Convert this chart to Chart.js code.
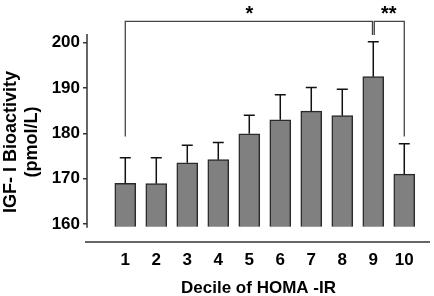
<!DOCTYPE html>
<html>
<head>
<meta charset="utf-8">
<script src="https://cdn.jsdelivr.net/npm/chart.js@4/dist/chart.umd.min.js"></script>
<style>
  html, body { margin: 0; padding: 0; background: #fff; }
  #wrap { width: 434px; height: 296px; }
</style>
</head>
<body>
<div id="wrap"><canvas id="chart"></canvas></div>
<script>
// data
const deciles = [1, 2, 3, 4, 5, 6, 7, 8, 9, 10];
const means = [169.0, 168.9, 173.5, 174.2, 179.9, 183.0, 184.9, 183.9, 192.5, 171.0];
const sem = [5.6, 5.7, 3.9, 3.8, 4.1, 5.5, 5.2, 5.8, 7.7, 6.7];
const yTicks = [160, 170, 180, 190, 200];

const FONT = "'Liberation Sans', Arial, Helvetica, sans-serif";
const barBase = 159.4;

// error bars, axis lines, significance brackets
const extras = {
  id: 'extras',
  afterDatasetsDraw(chart) {
    const ctx = chart.ctx;
    const x = chart.scales.x, y = chart.scales.y;
    ctx.save();

    // error bars (upper only)
    ctx.strokeStyle = '#111';
    ctx.lineWidth = 1.5;
    deciles.forEach((d, i) => {
      const px = x.getPixelForValue(d);
      const top = y.getPixelForValue(means[i] + sem[i]);
      ctx.beginPath();
      ctx.moveTo(px, y.getPixelForValue(means[i]));
      ctx.lineTo(px, top);
      ctx.moveTo(px - 5.5, top);
      ctx.lineTo(px + 5.5, top);
      ctx.stroke();
    });

    // y axis line
    const left = chart.chartArea.left;
    ctx.strokeStyle = '#333';
    ctx.lineWidth = 1.5;
    ctx.beginPath();
    ctx.moveTo(left, y.getPixelForValue(201.9));
    ctx.lineTo(left, y.getPixelForValue(barBase - 0.2));
    ctx.stroke();

    // x axis line
    const bottom = chart.chartArea.bottom;
    ctx.beginPath();
    ctx.moveTo(left - 2, bottom);
    ctx.lineTo(chart.chartArea.right, bottom);
    ctx.stroke();

    // brackets
    const yb = y.getPixelForValue(204.7);
    const ylow = y.getPixelForValue(179.3);
    const x1 = x.getPixelForValue(1);
    const x9 = x.getPixelForValue(9);
    const x10 = x.getPixelForValue(10);
    ctx.strokeStyle = '#444';
    ctx.lineWidth = 1.3;
    ctx.beginPath();
    ctx.moveTo(x1, ylow);
    ctx.lineTo(x1, yb);
    ctx.lineTo(x9 - 0.8, yb);
    ctx.lineTo(x9 - 0.8, y.getPixelForValue(201.7));
    ctx.moveTo(x9 + 1, y.getPixelForValue(201.7));
    ctx.lineTo(x9 + 1, yb);
    ctx.lineTo(x10, yb);
    ctx.lineTo(x10, ylow);
    ctx.stroke();

    ctx.fillStyle = '#000';
    ctx.font = 'bold 20px ' + FONT;
    ctx.textAlign = 'center';
    ctx.textBaseline = 'middle';
    ctx.fillText('*', x.getPixelForValue(5), yb - 7);
    ctx.fillText('**', x.getPixelForValue(9.5), yb - 7);
    ctx.restore();
  }
};

new Chart(document.getElementById('chart'), {
  type: 'bar',
  data: {
    datasets: [{
      data: deciles.map((d, i) => ({ x: d, y: means[i] })),
      base: barBase,
      backgroundColor: '#808080',
      borderColor: '#2a2a2a',
      borderWidth: 1.5,
      barThickness: 21
    }]
  },
  options: {
    responsive: true,
    maintainAspectRatio: false,
    animation: false,
    layout: { padding: { top: 42, right: 4, left: 0, bottom: 0 } },
    plugins: { legend: { display: false }, tooltip: { enabled: false } },
    scales: {
      x: {
        type: 'linear',
        offset: false,
        min: -0.235,
        max: 10.83,
        grid: { display: false, drawTicks: false },
        border: { display: false },
        afterBuildTicks: s => { s.ticks = deciles.map(v => ({ value: v })); },
        afterFit: s => { s.height = 54; },
        ticks: { color: '#000', padding: 8, font: { family: FONT, size: 17, weight: 'bold' } },
        title: {
          display: true,
          text: 'Decile of HOMA -IR',
          color: '#000',
          padding: { top: 0, bottom: 0 },
          font: { family: FONT, size: 17, weight: 'bold', lineHeight: 0.87 }
        }
      },
      y: {
        min: 156.03,
        max: 200.15,
        grid: { drawOnChartArea: false, drawTicks: true, tickLength: 4, color: '#333', lineWidth: 1.5 },
        border: { display: false },
        afterBuildTicks: s => { s.ticks = yTicks.map(v => ({ value: v })); },
        afterFit: s => { s.width = 87; },
        ticks: { color: '#000', padding: 3, font: { family: FONT, size: 17, weight: 'bold' } },
        title: {
          display: true,
          text: ['IGF- I Bioactivity', '(pmol/L)'],
          color: '#000',
          padding: { top: 0, bottom: 0 },
          font: { family: FONT, size: 18, weight: 'bold', lineHeight: 1.2 }
        }
      }
    }
  },
  plugins: [extras]
});
</script>
</body>
</html>
